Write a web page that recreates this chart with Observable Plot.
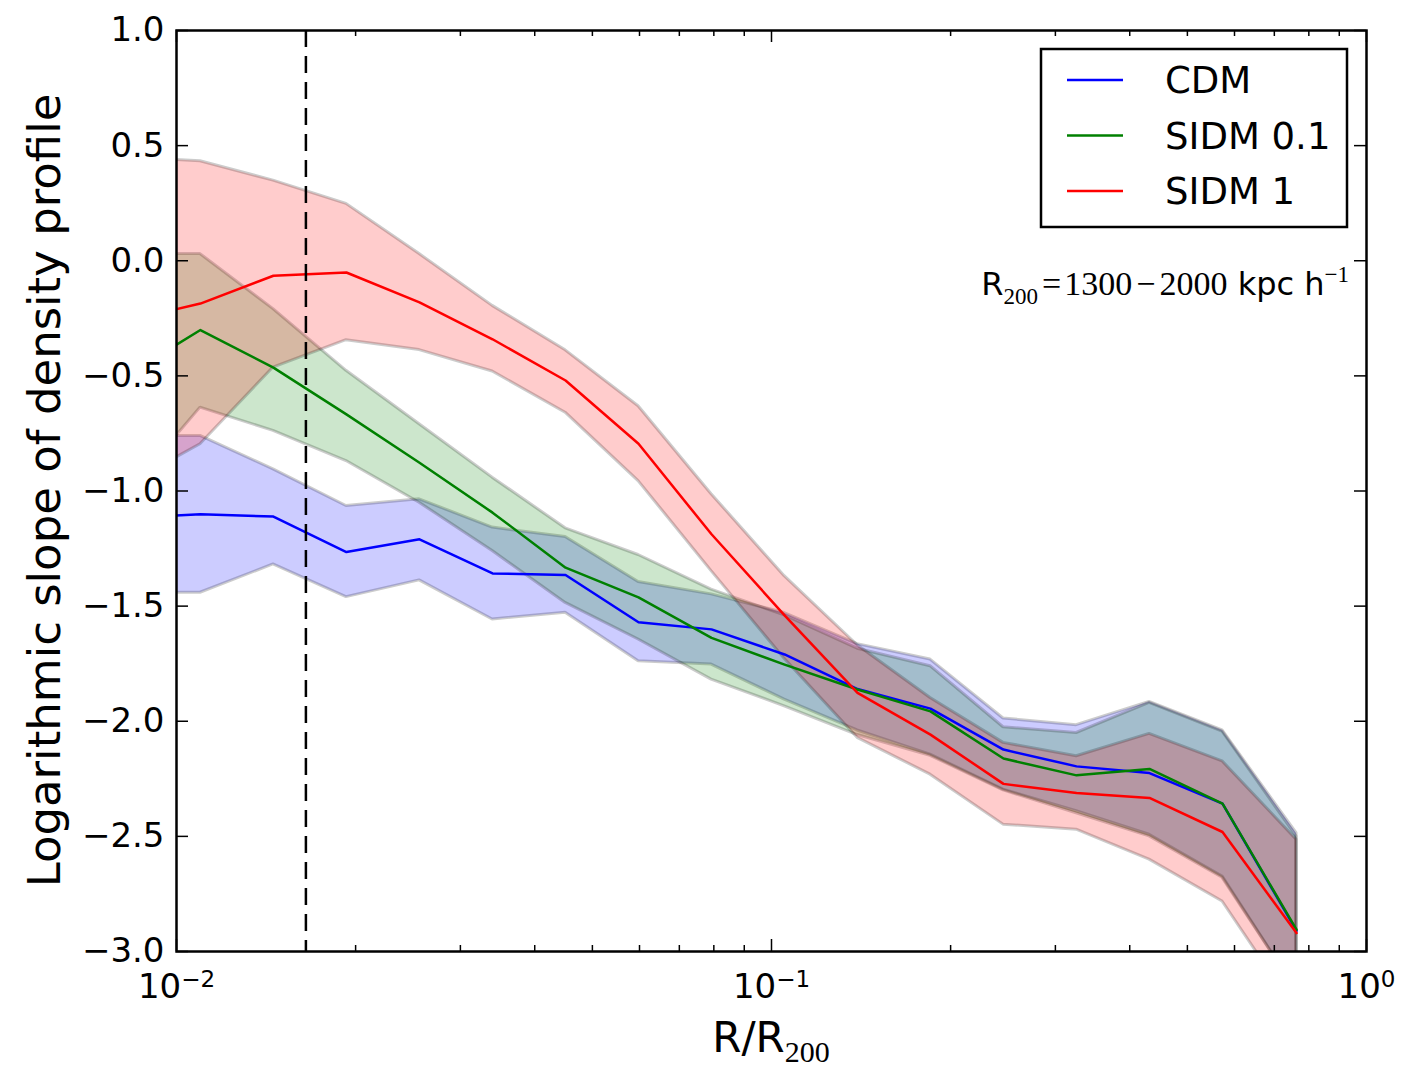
<!DOCTYPE html>
<html>
<head>
<meta charset="utf-8">
<script src="https://cdn.jsdelivr.net/npm/d3@7"></script>
<script src="https://cdn.jsdelivr.net/npm/@observablehq/plot@0.6"></script>
<style>
  body { margin: 0; background: #fff; }
  #chart { width: 1422px; height: 1066px; }
</style>
</head>
<body>
<div id="chart"></div>
<script>
// ---------- data ----------
const radius = [0.00827, 0.01097, 0.01455, 0.0193, 0.02561, 0.03398, 0.04507, 0.05977,
                0.07929, 0.1052, 0.1395, 0.185, 0.2454, 0.3256, 0.4318, 0.5728, 0.7628];

const cdmMean = [-1.116, -1.101, -1.111, -1.265, -1.210, -1.358, -1.365, -1.570, -1.601,
                 -1.710, -1.860, -1.945, -2.123, -2.196, -2.225, -2.358, -2.910];
const cdmHi   = [-0.761, -0.761, -0.906, -1.065, -1.036, -1.159, -1.200, -1.395, -1.449,
                 -1.530, -1.665, -1.732, -1.988, -2.017, -1.916, -2.040, -2.486];
const cdmLo   = [-1.442, -1.442, -1.319, -1.461, -1.388, -1.558, -1.529, -1.739, -1.754,
                 -1.906, -2.040, -2.145, -2.297, -2.391, -2.493, -2.674, -3.170];

const sidm01Mean = [-0.496, -0.301, -0.464, -0.667, -0.877, -1.094, -1.333, -1.462, -1.638,
                    -1.754, -1.862, -1.957, -2.162, -2.235, -2.207, -2.358, -2.905];
const sidm01Hi   = [0.029, 0.029, -0.210, -0.478, -0.710, -0.942, -1.162, -1.278, -1.428,
                    -1.540, -1.685, -1.761, -2.026, -2.051, -1.920, -2.045, -2.500];
const sidm01Lo   = [-1.010, -0.638, -0.739, -0.870, -1.051, -1.261, -1.486, -1.645, -1.819,
                    -1.935, -2.060, -2.150, -2.300, -2.400, -2.500, -2.680, -3.170];

const sidm1Mean = [-0.259, -0.186, -0.065, -0.051, -0.181, -0.341, -0.520, -0.795, -1.188,
                   -1.540, -1.877, -2.058, -2.272, -2.312, -2.333, -2.481, -2.920];
const sidm1Hi   = [0.450, 0.432, 0.348, 0.247, 0.029, -0.196, -0.389, -0.632, -1.014,
                   -1.370, -1.670, -1.899, -2.094, -2.152, -2.055, -2.174, -2.514];
const sidm1Lo   = [-0.973, -0.797, -0.464, -0.345, -0.388, -0.481, -0.660, -0.957, -1.348,
                   -1.729, -2.072, -2.232, -2.449, -2.471, -2.601, -2.783, -3.260];

const seriesNames  = ["CDM", "SIDM 0.1", "SIDM 1"];
const seriesColors = ["#0000ff", "#008000", "#ff0000"];

const cutoff = 0.0165;                      // dashed vertical line
const yTicks = [1.0, 0.5, 0.0, -0.5, -1.0, -1.5, -2.0, -2.5, -3.0];
const xMajor = [0.01, 0.1, 1];
const xMajorExp = ["\u22122", "\u22121", "0"];
const xMinor = [0.02,0.03,0.04,0.05,0.06,0.07,0.08,0.09,0.2,0.3,0.4,0.5,0.6,0.7,0.8,0.9];

// ---------- layout ----------
const W = 1422, H = 1066;
const mL = 176, mR = 56, mT = 30, mB = 115;
const fw = W - mL - mR, fh = H - mT - mB;
const SANS = "'DejaVu Sans', sans-serif";
const SERIF = "'Liberation Serif', 'DejaVu Serif', serif";

const series = [
  {name: seriesNames[0], color: seriesColors[0], mean: cdmMean,    hi: cdmHi,    lo: cdmLo},
  {name: seriesNames[1], color: seriesColors[1], mean: sidm01Mean, hi: sidm01Hi, lo: sidm01Lo},
  {name: seriesNames[2], color: seriesColors[2], mean: sidm1Mean,  hi: sidm1Hi,  lo: sidm1Lo}
];

const marks = [];
for (const s of series) {
  const rows = radius.map((x, i) => ({x, lo: s.lo[i], hi: s.hi[i]}));
  marks.push(Plot.areaY(rows, {x: "x", y1: "lo", y2: "hi", fill: s.color, fillOpacity: 0.2,
    stroke: "black", strokeOpacity: 0.2, strokeWidth: 3, strokeLinejoin: "miter", clip: true}));
}
for (const s of series) {
  const rows = radius.map((x, i) => ({x, y: s.mean[i]}));
  marks.push(Plot.line(rows, {x: "x", y: "y", stroke: s.color, strokeWidth: 2.5, clip: true}));
}
marks.push(Plot.ruleX([cutoff], {stroke: "black", strokeWidth: 2.5, strokeDasharray: "17,9"}));

// inward ticks on all four sides
const tk = {stroke: "black", strokeWidth: 1.5};
marks.push(Plot.tickY(yTicks, {y: d => d, insetRight: fw - 12, ...tk}));
marks.push(Plot.tickY(yTicks, {y: d => d, insetLeft: fw - 12, ...tk}));
marks.push(Plot.tickX(xMajor, {x: d => d, insetTop: fh - 12, ...tk}));
marks.push(Plot.tickX(xMajor, {x: d => d, insetBottom: fh - 12, ...tk}));
marks.push(Plot.tickX(xMinor, {x: d => d, insetTop: fh - 6, ...tk}));
marks.push(Plot.tickX(xMinor, {x: d => d, insetBottom: fh - 6, ...tk}));

marks.push(Plot.axisY(yTicks, {tickSize: 0, tickPadding: 12, fontSize: 34,
  tickFormat: d => (d < 0 ? "\u2212" + (-d).toFixed(1) : d.toFixed(1))}));
marks.push(Plot.text(xMajor, {x: d => d, frameAnchor: "bottom", text: () => "10",
  dy: 46, fontSize: 34, textAnchor: "middle", className: "xtl"}));

marks.push(Plot.frame({stroke: "black", strokeWidth: 2.5}));

const svg = Plot.plot({
  width: W, height: H,
  marginLeft: mL, marginRight: mR, marginTop: mT, marginBottom: mB,
  x: {type: "log", domain: [0.01, 1], axis: null},
  y: {domain: [-3, 1]},
  style: {fontFamily: SANS, fontSize: "34px", background: "white", color: "black", overflow: "visible"},
  marks
});
document.getElementById("chart").appendChild(svg);

const S = d3.select(svg);

// superscript exponents on x tick labels
S.selectAll(".xtl text").each(function(_, i) {
  d3.select(this).append("tspan").attr("dy", "-0.45em").attr("font-size", 23).text(xMajorExp[i]);
});

// y label
S.append("text")
  .attr("transform", `translate(60,${mT + fh / 2}) rotate(-90)`)
  .attr("text-anchor", "middle").attr("font-family", SANS).attr("font-size", 45)
  .attr("fill", "black")
  .text("Logarithmic slope of density profile");

// x label
const xl = S.append("text")
  .attr("x", mL + fw / 2).attr("y", 1052).attr("text-anchor", "middle")
  .attr("font-family", SANS).attr("font-size", 42).attr("fill", "black");
xl.append("tspan").text("R/R");
xl.append("tspan").attr("font-family", SERIF).attr("font-size", 30).attr("dy", 10).text("200");

// annotation
const an = S.append("text")
  .attr("x", 1349).attr("y", 295).attr("text-anchor", "end")
  .attr("font-family", SANS).attr("font-size", 32).attr("fill", "black");
an.append("tspan").text("R");
an.append("tspan").attr("font-family", SERIF).attr("font-size", 23).attr("dy", 9).text("200");
an.append("tspan").attr("font-family", SERIF).attr("font-size", 34).attr("dy", -9).attr("dx", 4).text("=");
an.append("tspan").attr("font-family", SERIF).attr("font-size", 34).attr("dx", 3).text("1300");
an.append("tspan").attr("font-family", SERIF).attr("font-size", 34).attr("dx", 4).text("\u2212");
an.append("tspan").attr("font-family", SERIF).attr("font-size", 34).attr("dx", 4).text("2000");
an.append("tspan").text(" kpc h");
an.append("tspan").attr("font-family", SERIF).attr("font-size", 23).attr("dy", -13).text("\u22121");

// legend
const lg = S.append("g");
lg.append("rect").attr("x", 1041).attr("y", 49).attr("width", 306).attr("height", 178)
  .attr("fill", "white").attr("stroke", "black").attr("stroke-width", 2.5);
series.forEach((s, i) => {
  const cy = 80 + i * 55.5;
  lg.append("line").attr("x1", 1067).attr("x2", 1123).attr("y1", cy).attr("y2", cy)
    .attr("stroke", s.color).attr("stroke-width", 2.5);
  lg.append("text").attr("x", 1165).attr("y", cy + 13).attr("text-anchor", "start")
    .attr("font-family", SANS).attr("font-size", 37).attr("fill", "black").text(s.name);
});
</script>
</body>
</html>
